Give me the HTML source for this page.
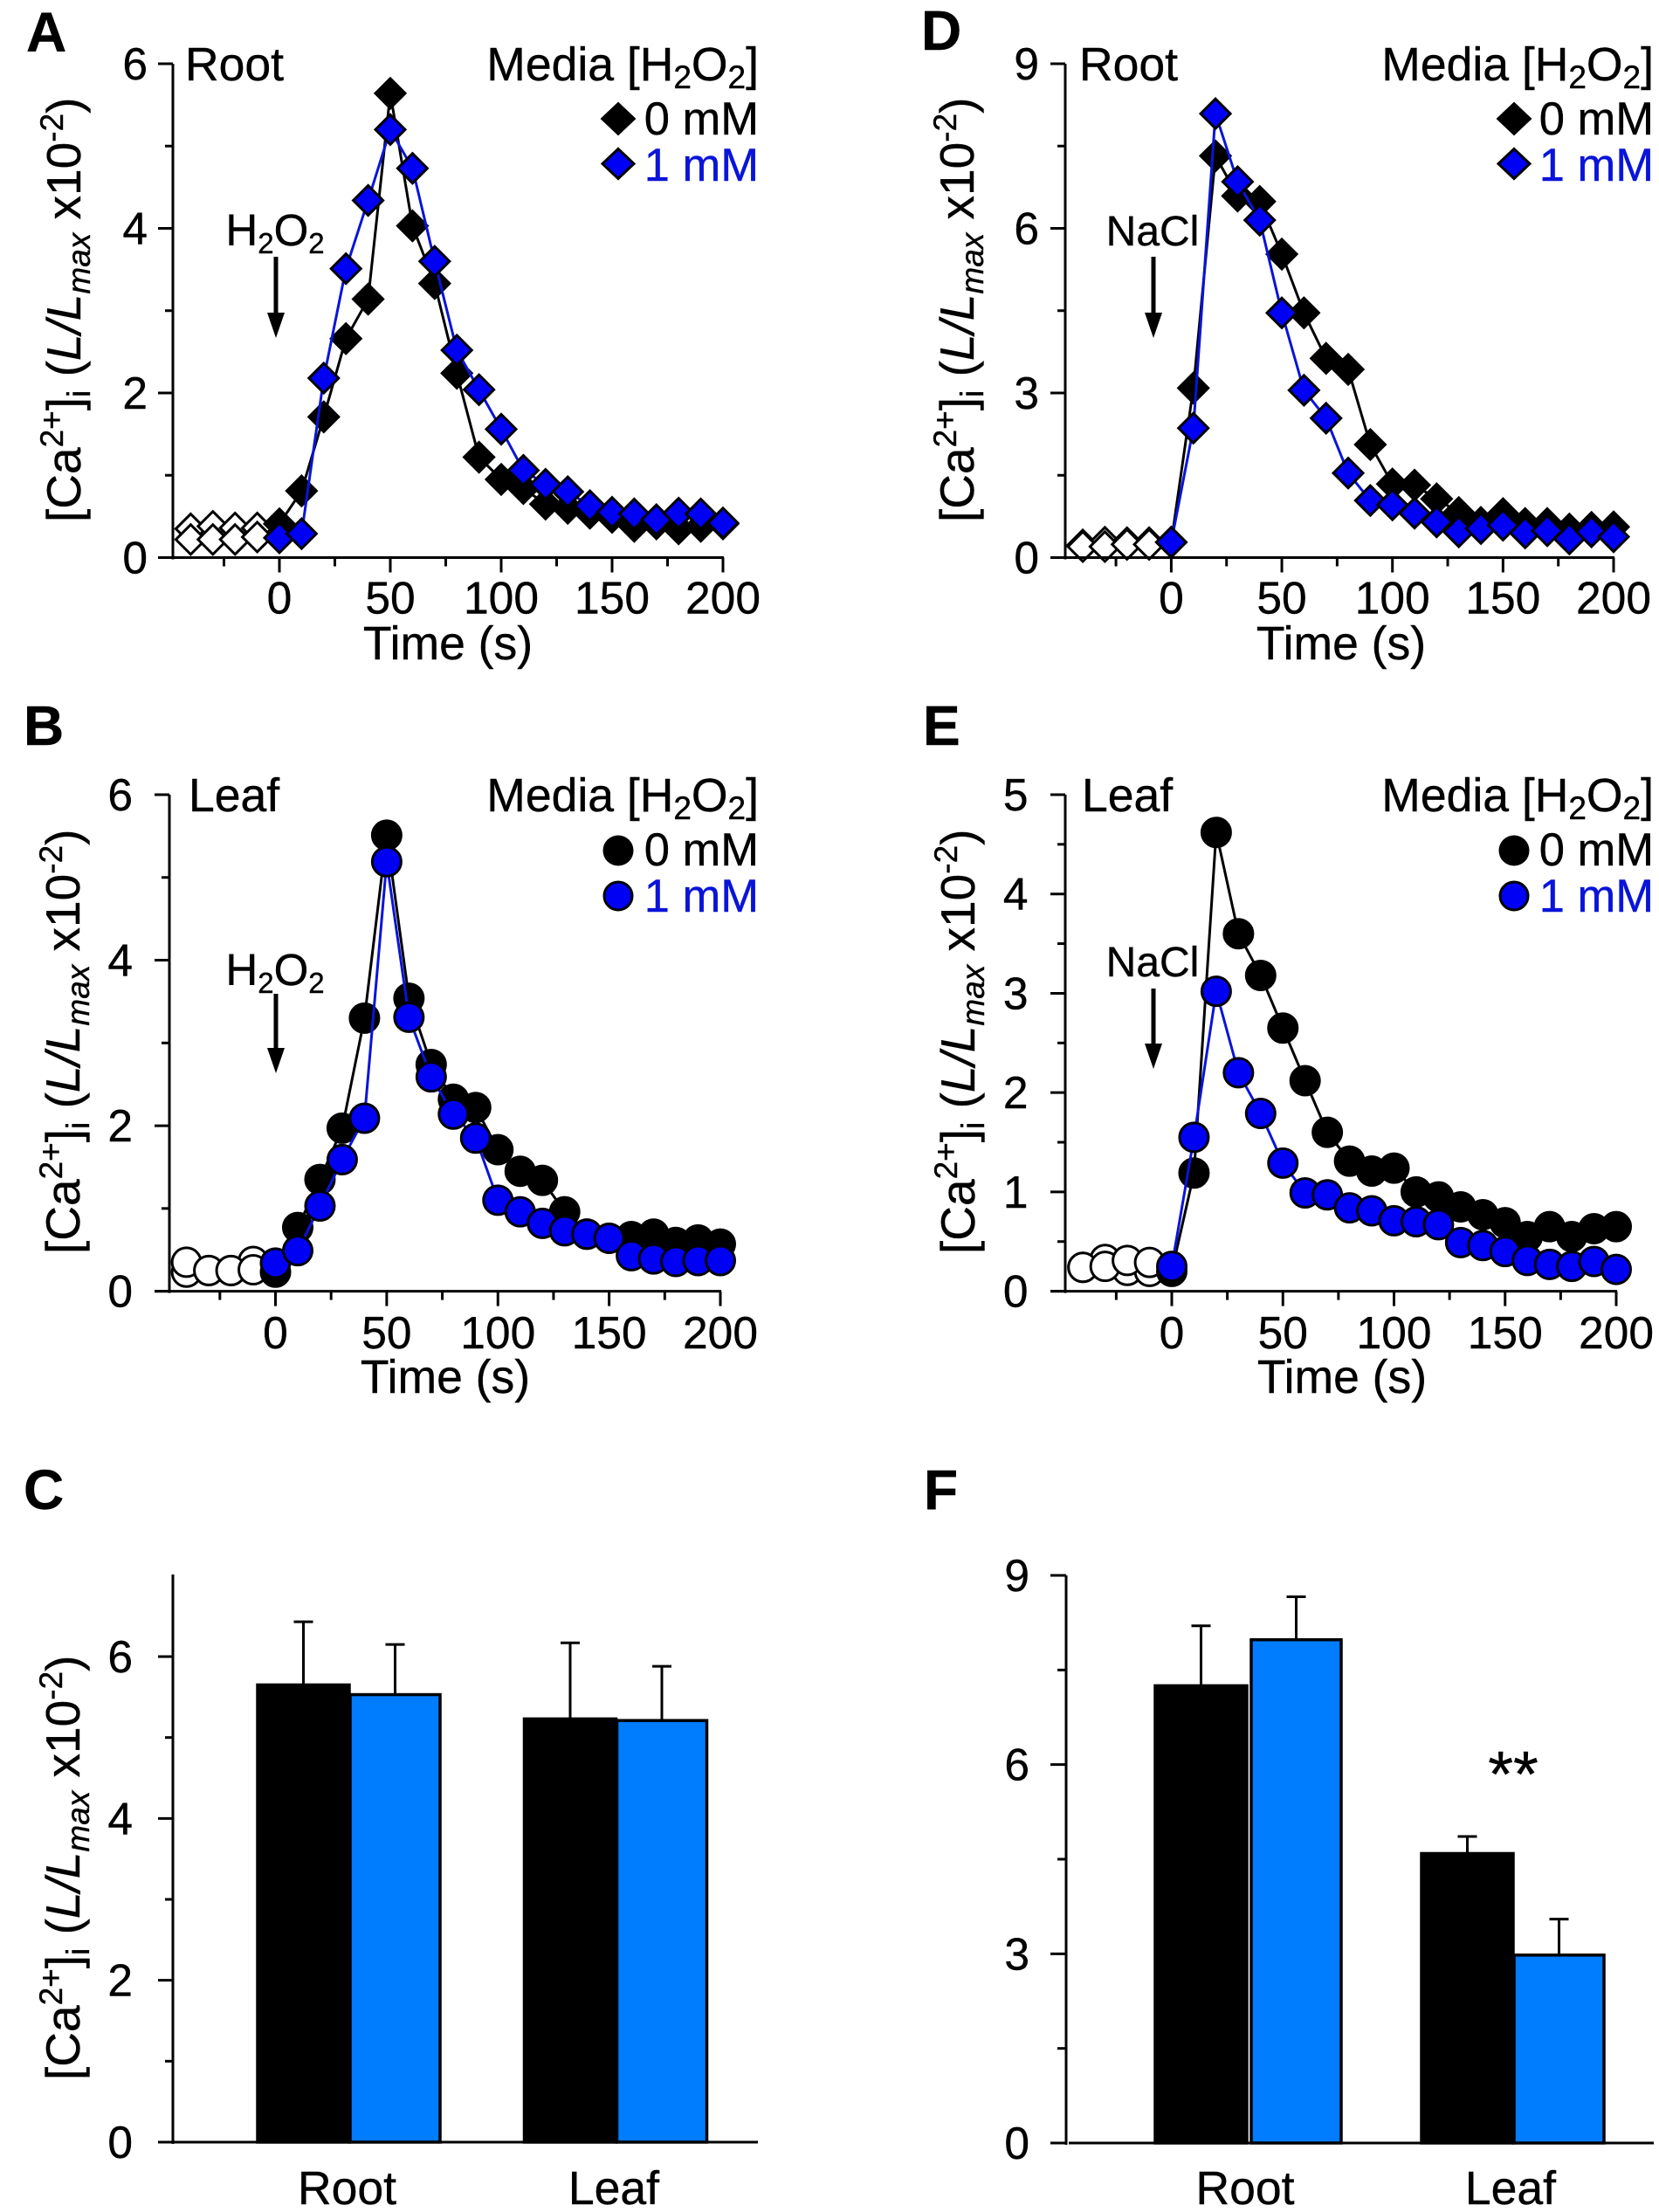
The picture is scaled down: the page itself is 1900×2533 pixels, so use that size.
<!DOCTYPE html>
<html lang="en">
<head>
<meta charset="utf-8">
<title>Cytosolic calcium responses to H2O2 and NaCl</title>
<style>
html,body{margin:0;padding:0;background:#fff;width:1900px;height:2533px;overflow:hidden}
svg{display:block}
text{font-family:"Liberation Sans",Arial,sans-serif;fill:#000;stroke:#000;stroke-width:.4px}
.t{font-size:53.5px}
.e{font-size:52.500px}
.a{font-size:51px}
.n{font-size:48px}
.tick{font-size:51.500px}
.letter{font-size:64px;font-weight:bold}
text.blue{fill:#0a14d8;stroke:#0a14d8}
.yl{font-size:55px}
</style>
</head>
<body>
<svg id="figure" xmlns="http://www.w3.org/2000/svg" width="1900" height="2533" viewBox="0 0 1900 2533">
  <rect x="0" y="0" width="1900" height="2533" fill="#fff"/>

  <!-- panel letters -->
  <text class="letter" x="30" y="59">A</text>
  <text class="letter" x="27" y="853">B</text>
  <text class="letter" x="27" y="1728">C</text>
  <text class="letter" x="1055" y="57">D</text>
  <text class="letter" x="1057" y="853">E</text>
  <text class="letter" x="1058" y="1728">F</text>

  <!-- y axis titles -->
  <text class="yl" transform="translate(92,598) rotate(-90)">[Ca<tspan font-size="37" dy="-20">2+</tspan><tspan dy="20">]</tspan><tspan font-size="37" dy="11">i</tspan><tspan dy="-11"> (</tspan><tspan font-style="italic">L/L</tspan><tspan font-style="italic" font-size="37" dy="11">max</tspan><tspan dy="-11"> x10</tspan><tspan font-size="37" dy="-20">-2</tspan><tspan dy="20">)</tspan></text>
  <text class="yl" transform="translate(91,1436) rotate(-90)">[Ca<tspan font-size="37" dy="-20">2+</tspan><tspan dy="20">]</tspan><tspan font-size="37" dy="11">i</tspan><tspan dy="-11"> (</tspan><tspan font-style="italic">L/L</tspan><tspan font-style="italic" font-size="37" dy="11">max</tspan><tspan dy="-11"> x10</tspan><tspan font-size="37" dy="-20">-2</tspan><tspan dy="20">)</tspan></text>
  <text class="yl" transform="translate(91,2382) rotate(-90)">[Ca<tspan font-size="37" dy="-20">2+</tspan><tspan dy="20">]</tspan><tspan font-size="37" dy="11">i</tspan><tspan dy="-11"> (</tspan><tspan font-style="italic">L/L</tspan><tspan font-style="italic" font-size="37" dy="11">max</tspan><tspan dy="-11"> x10</tspan><tspan font-size="37" dy="-20">-2</tspan><tspan dy="20">)</tspan></text>
  <text class="yl" transform="translate(1115,598) rotate(-90)">[Ca<tspan font-size="37" dy="-20">2+</tspan><tspan dy="20">]</tspan><tspan font-size="37" dy="11">i</tspan><tspan dy="-11"> (</tspan><tspan font-style="italic">L/L</tspan><tspan font-style="italic" font-size="37" dy="11">max</tspan><tspan dy="-11"> x10</tspan><tspan font-size="37" dy="-20">-2</tspan><tspan dy="20">)</tspan></text>
  <text class="yl" transform="translate(1116,1436) rotate(-90)">[Ca<tspan font-size="37" dy="-20">2+</tspan><tspan dy="20">]</tspan><tspan font-size="37" dy="11">i</tspan><tspan dy="-11"> (</tspan><tspan font-style="italic">L/L</tspan><tspan font-style="italic" font-size="37" dy="11">max</tspan><tspan dy="-11"> x10</tspan><tspan font-size="37" dy="-20">-2</tspan><tspan dy="20">)</tspan></text>

  <!-- x axis titles -->
  <text class="t" x="513" y="755" text-anchor="middle">Time (s)</text>
  <text class="t" x="510" y="1595" text-anchor="middle">Time (s)</text>
  <text class="t" x="1536" y="755" text-anchor="middle">Time (s)</text>
  <text class="t" x="1537" y="1595" text-anchor="middle">Time (s)</text>

  <!-- tissue labels -->
  <text class="t" x="212" y="92">Root</text>
  <text class="t" x="216" y="929">Leaf</text>
  <text class="t" x="1236" y="92">Root</text>
  <text class="t" x="1239" y="929">Leaf</text>

  <!-- legends -->
  <g>
    <text class="t" x="869" y="92" text-anchor="end">Media [H<tspan font-size="37" dy="9">2</tspan><tspan dy="-9">O</tspan><tspan font-size="37" dy="9">2</tspan><tspan dy="-9">]</tspan></text>
    <polygon points="708,118 727,136 708,154 689,136" fill="#000" stroke="#000" stroke-width="2"/>
    <text class="e" x="869" y="154" text-anchor="end">0 mM</text>
    <polygon points="708,170.500 726,187.500 708,204.500 690,187.500" fill="#0000f5" stroke="#000" stroke-width="3"/>
    <text class="e blue" x="869" y="207" text-anchor="end">1 mM</text>
  </g>
  <g>
    <text class="t" x="869" y="929" text-anchor="end">Media [H<tspan font-size="37" dy="9">2</tspan><tspan dy="-9">O</tspan><tspan font-size="37" dy="9">2</tspan><tspan dy="-9">]</tspan></text>
    <circle cx="708" cy="974" r="17.500" fill="#000"/>
    <text class="e" x="869" y="991" text-anchor="end">0 mM</text>
    <circle cx="708" cy="1026" r="16" fill="#0000f5" stroke="#000" stroke-width="3"/>
    <text class="e blue" x="869" y="1044" text-anchor="end">1 mM</text>
  </g>
  <g>
    <text class="t" x="1894" y="92" text-anchor="end">Media [H<tspan font-size="37" dy="9">2</tspan><tspan dy="-9">O</tspan><tspan font-size="37" dy="9">2</tspan><tspan dy="-9">]</tspan></text>
    <polygon points="1734,118 1753,136 1734,154 1715,136" fill="#000" stroke="#000" stroke-width="2"/>
    <text class="e" x="1894" y="154" text-anchor="end">0 mM</text>
    <polygon points="1734,170.500 1752,187.500 1734,204.500 1716,187.500" fill="#0000f5" stroke="#000" stroke-width="3"/>
    <text class="e blue" x="1894" y="207" text-anchor="end">1 mM</text>
  </g>
  <g>
    <text class="t" x="1894" y="929" text-anchor="end">Media [H<tspan font-size="37" dy="9">2</tspan><tspan dy="-9">O</tspan><tspan font-size="37" dy="9">2</tspan><tspan dy="-9">]</tspan></text>
    <circle cx="1734" cy="974" r="17.500" fill="#000"/>
    <text class="e" x="1894" y="991" text-anchor="end">0 mM</text>
    <circle cx="1734" cy="1026" r="16" fill="#0000f5" stroke="#000" stroke-width="3"/>
    <text class="e blue" x="1894" y="1044" text-anchor="end">1 mM</text>
  </g>

  <!-- treatment annotations -->
  <g>
    <text class="a" x="315" y="281" text-anchor="middle">H<tspan font-size="33" dy="9">2</tspan><tspan dy="-9">O</tspan><tspan font-size="33" dy="9">2</tspan></text>
    <line x1="316" y1="294" x2="316" y2="360" stroke="#000" stroke-width="5"/>
    <polygon points="306,358 326,358 316,387" fill="#000"/>
  </g>
  <g>
    <text class="a" x="315" y="1128" text-anchor="middle">H<tspan font-size="33" dy="9">2</tspan><tspan dy="-9">O</tspan><tspan font-size="33" dy="9">2</tspan></text>
    <line x1="316" y1="1138" x2="316" y2="1203" stroke="#000" stroke-width="5"/>
    <polygon points="306,1200 326,1200 316,1229" fill="#000"/>
  </g>
  <g>
    <text class="n" x="1320" y="281" text-anchor="middle">NaCl</text>
    <line x1="1321" y1="294" x2="1321" y2="360" stroke="#000" stroke-width="5"/>
    <polygon points="1311,358 1331,358 1321,387" fill="#000"/>
  </g>
  <g>
    <text class="n" x="1320" y="1118" text-anchor="middle">NaCl</text>
    <line x1="1321" y1="1132" x2="1321" y2="1198" stroke="#000" stroke-width="5"/>
    <polygon points="1311,1195 1331,1195 1321,1224" fill="#000"/>
  </g>

  <text x="1733" y="2057" text-anchor="middle" font-size="74">**</text>

  <g id="charts"></g>
</svg>

<script>
// Shared axis data
const timeValues = [0,10,20,30,40,50,60,70,80,90,100,110,120,130,140,150,160,170,180,190,200];
const baselineTimes = [-40,-30,-20,-10];
const xMajorTicks = [0,50,100,150,200];
const xMinorTicks = [-25,25,75,125,175];
const yMajorTicksSix = [0,2,4,6];
const yMinorTicksSix = [1,3,5];
const yMajorTicksNine = [0,3,6,9];
const yMinorTicksNine = [1.5,4.5,7.5];
const yMajorTicksFive = [0,1,2,3,4,5];
const yMinorTicksFive = [0.5,1.5,2.5,3.5,4.5];

// Panel A: root, H2O2
const rootH2O2Baseline0 = [0.35,0.38,0.36,0.36];
const rootH2O2Baseline1 = [0.22,0.22,0.22,0.25];
const rootH2O2Series0 = [0.41,0.81,1.71,2.66,3.14,5.64,4.03,3.33,2.24,1.22,0.95,0.84,0.65,0.60,0.54,0.49,0.38,0.41,0.35,0.38,0.41];
const rootH2O2Series1 = [0.24,0.29,2.18,3.51,4.34,5.20,4.73,3.60,2.52,2.04,1.56,1.06,0.89,0.80,0.63,0.55,0.53,0.46,0.54,0.53,0.42];

// Panel B: leaf, H2O2
const leafH2O2Baseline0 = [0.23,0.25,0.25,0.36];
const leafH2O2Baseline1 = [0.35,0.25,0.25,0.26];
const leafH2O2Series0 = [0.23,0.77,1.35,1.97,3.30,5.51,3.54,2.74,2.32,2.22,1.71,1.45,1.34,0.96,0.69,0.64,0.66,0.69,0.59,0.62,0.57];
const leafH2O2Series1 = [0.34,0.49,1.03,1.59,2.09,5.19,3.31,2.59,2.14,1.85,1.10,0.96,0.82,0.73,0.69,0.64,0.43,0.39,0.36,0.37,0.37];

// Panel D: root, NaCl
const rootNaClBaseline0 = [0.23,0.28,0.27,0.27];
const rootNaClBaseline1 = [0.20,0.20,0.24,0.24];
const rootNaClSeries0 = [0.28,3.09,7.32,6.59,6.49,5.53,4.46,3.63,3.43,2.06,1.34,1.32,1.07,0.82,0.64,0.80,0.62,0.62,0.52,0.55,0.56];
const rootNaClSeries1 = [0.28,2.36,8.09,6.85,6.15,4.46,3.05,2.54,1.54,1.04,0.96,0.81,0.65,0.47,0.53,0.59,0.45,0.49,0.34,0.47,0.38];

// Panel E: leaf, NaCl
const leafNaClBaseline0 = [0.24,0.32,0.21,0.20];
const leafNaClBaseline1 = [0.24,0.25,0.31,0.29];
const leafNaClSeries0 = [0.20,1.19,4.62,3.60,3.18,2.65,2.12,1.60,1.31,1.21,1.24,1.00,0.95,0.85,0.77,0.69,0.55,0.65,0.55,0.63,0.65];
const leafNaClSeries1 = [0.25,1.55,3.02,2.20,1.79,1.29,0.99,0.97,0.84,0.81,0.71,0.70,0.67,0.49,0.46,0.40,0.31,0.27,0.25,0.30,0.22];

// Panels C and F: peak values
const barCategories = ["Root","Leaf"];
const peakH2O2Means0 = [5.65,5.23];
const peakH2O2Means1 = [5.53,5.21];
const peakH2O2Errors0 = [6.43,6.17];
const peakH2O2Errors1 = [6.15,5.88];
const peakNaClMeans0 = [7.25,4.59];
const peakNaClMeans1 = [7.98,2.98];
const peakNaClErrors0 = [8.20,4.86];
const peakNaClErrors1 = [8.66,3.55];

const SVGNS = "http://www.w3.org/2000/svg";
const root = document.getElementById("charts");

function make(tag, attrs, parent) {
  const el = document.createElementNS(SVGNS, tag);
  for (const k in attrs) el.setAttribute(k, attrs[k]);
  parent.appendChild(el);
  return el;
}

function linearScale(d0, d1, r0, r1) {
  return function (v) { return r0 + (v - d0) * (r1 - r0) / (d1 - d0); };
}

function drawYAxis(g, opt, yScale, majors, minors) {
  const spine = make("line", {x1: opt.axisX, x2: opt.axisX, y1: opt.yTop, y2: opt.y0 + 2, stroke: "#000", "stroke-width": 3}, g);
  
  
  majors.forEach(function (v) {
    const t = make("line", {x1: opt.axisLeft, x2: opt.axisX, y1: yScale(v), y2: yScale(v), stroke: "#000", "stroke-width": 3}, g);
    
    
    const label = make("text", {x: opt.labelRight, y: yScale(v) + 18, "text-anchor": "end", class: "tick"}, g);
    
    
    label.textContent = String(v);
  });
  minors.forEach(function (v) {
    const t = make("line", {x1: opt.axisLeft + 8, x2: opt.axisX, y1: yScale(v), y2: yScale(v), stroke: "#000", "stroke-width": 3}, g);
    
    
  });
}

function drawTimeAxis(g, opt, xScale, yScale) {
  const spine = make("line", {x1: opt.axisLeft, x2: xScale(200) + 1, y1: yScale(0), y2: yScale(0), stroke: "#000", "stroke-width": 3}, g);
  
  
  xMajorTicks.forEach(function (v) {
    const t = make("line", {x1: xScale(v), x2: xScale(v), y1: yScale(0), y2: yScale(0) + 17, stroke: "#000", "stroke-width": 3}, g);
    
    
    const label = make("text", {x: xScale(v), y: opt.xLabelY, "text-anchor": "middle", class: "tick"}, g);
    
    
    label.textContent = String(v);
  });
  xMinorTicks.forEach(function (v) {
    const t = make("line", {x1: xScale(v), x2: xScale(v), y1: yScale(0), y2: yScale(0) + 10, stroke: "#000", "stroke-width": 3}, g);
    
    
  });
}

function drawMarker(g, shape, x, y, fill) {
  let m;
  if (shape === "diamond") {
    const r = 17;
    m = make("polygon", {points: x + "," + (y - r) + " " + (x + r) + "," + y + " " + x + "," + (y + r) + " " + (x - r) + "," + y, fill: fill, stroke: "#000", "stroke-width": 3, "stroke-linejoin": "miter"}, g);
  } else {
    m = make("circle", {cx: x, cy: y, r: 16.5, fill: fill, stroke: "#000", "stroke-width": 3}, g);
  }
  return m;
}

function drawSeries(g, shape, xs, ys, xScale, yScale, lineColor, fill, connect) {
  if (connect) {
    const pts = xs.map(function (x, i) { return xScale(x) + "," + yScale(ys[i]); }).join(" ");
    const line = make("polyline", {points: pts, fill: "none", stroke: lineColor, "stroke-width": 3, "stroke-linejoin": "round"}, g);
    
    
  }
  xs.forEach(function (x, i) {
    const m = drawMarker(g, shape, xScale(x), yScale(ys[i]), fill);
    
    
  });
}

function drawTimeChart(name, opt, majors, minors, base0, base1, s0, s1) {
  const g = make("g", {}, root);
  
  
  const xScale = linearScale(0, 200, opt.x0, opt.x200);
  const yScale = linearScale(0, opt.yMax, opt.y0, opt.yTop);
  drawSeries(g, opt.shape, baselineTimes, base0, xScale, yScale, "#000", "#fff", false);
  drawSeries(g, opt.shape, baselineTimes, base1, xScale, yScale, "#000", "#fff", false);
  drawSeries(g, opt.shape, timeValues, s0, xScale, yScale, "#000", "#000", true);
  drawSeries(g, opt.shape, timeValues, s1, xScale, yScale, "#0a14d8", "#0000f5", true);
  drawYAxis(g, opt, yScale, majors, minors);
  drawTimeAxis(g, opt, xScale, yScale);
}

function drawBarChart(name, opt, majors, minors, m0, m1, e0, e1) {
  const g = make("g", {}, root);
  
  
  const yScale = linearScale(0, opt.yMax, opt.y0, opt.yAt);
  function drawBar(cat, left, width, mean, err, fill, barName) {
    const bar = make("rect", {x: left, y: yScale(mean), width: width, height: opt.y0 - yScale(mean), fill: fill, stroke: "#000", "stroke-width": 3.5}, g);
    
    
    const cx = left + width / 2;
    const stem = make("line", {x1: cx, x2: cx, y1: yScale(mean), y2: yScale(err), stroke: "#000", "stroke-width": 3}, g);
    
    
    const cap = make("line", {x1: cx - 11, x2: cx + 11, y1: yScale(err), y2: yScale(err), stroke: "#000", "stroke-width": 3}, g);
    
    
  }
  barCategories.forEach(function (c, i) {
    const left = opt.barStart + i * opt.barStep;
    drawBar(c, left, 105, m0[i], e0[i], "#000", "bar-" + c.toLowerCase() + "-0mm");
    drawBar(c, left + 106 + opt.gaps[i], 103, m1[i], e1[i], "#007cff", "bar-" + c.toLowerCase() + "-1mm");
    const label = make("text", {x: opt.catX + i * opt.catStep, y: opt.catY, "text-anchor": "middle", class: "t"}, g);
    
    
    label.textContent = c;
  });
  const spine = make("line", {x1: opt.axisX, x2: opt.axisX, y1: opt.yTop, y2: opt.y0 + 2, stroke: "#000", "stroke-width": 3}, g);
  
  
  const base = make("line", {x1: opt.baseLeft, x2: opt.baseRight, y1: opt.y0, y2: opt.y0, stroke: "#000", "stroke-width": 3}, g);
  
  
  majors.forEach(function (v) {
    const t = make("line", {x1: opt.axisLeft, x2: opt.axisX, y1: yScale(v), y2: yScale(v), stroke: "#000", "stroke-width": 3}, g);
    
    
    const label = make("text", {x: opt.labelRight, y: yScale(v) + 18, "text-anchor": "end", class: "tick"}, g);
    
    
    label.textContent = String(v);
  });
  minors.forEach(function (v) {
    const t = make("line", {x1: opt.axisLeft + 8, x2: opt.axisX, y1: yScale(v), y2: yScale(v), stroke: "#000", "stroke-width": 3}, g);
    
    
  });
}

drawTimeChart("chart-a-root-h2o2", {shape:"diamond", x0:320, x200:828, y0:638.5, yTop:73, yMax:6, axisX:198, axisLeft:181, labelRight:169, xLabelY:702.5},
  yMajorTicksSix, yMinorTicksSix, rootH2O2Baseline0, rootH2O2Baseline1, rootH2O2Series0, rootH2O2Series1);
drawTimeChart("chart-b-leaf-h2o2", {shape:"circle", x0:315.5, x200:825, y0:1478.6, yTop:910, yMax:6, axisX:194, axisLeft:177, labelRight:152, xLabelY:1544},
  yMajorTicksSix, yMinorTicksSix, leafH2O2Baseline0, leafH2O2Baseline1, leafH2O2Series0, leafH2O2Series1);
drawTimeChart("chart-d-root-nacl", {shape:"diamond", x0:1341.4, x200:1848, y0:638.5, yTop:73, yMax:9, axisX:1220, axisLeft:1203, labelRight:1190, xLabelY:702.5},
  yMajorTicksNine, yMinorTicksNine, rootNaClBaseline0, rootNaClBaseline1, rootNaClSeries0, rootNaClSeries1);
drawTimeChart("chart-e-leaf-nacl", {shape:"circle", x0:1342, x200:1851, y0:1478.6, yTop:910, yMax:5, axisX:1220, axisLeft:1203, labelRight:1177.5, xLabelY:1544},
  yMajorTicksFive, yMinorTicksFive, leafNaClBaseline0, leafNaClBaseline1, leafNaClSeries0, leafNaClSeries1);

drawBarChart("chart-c-peak-h2o2", {y0:2453, yAt:1897, yMax:6, yTop:1803, axisX:198, axisLeft:181, labelRight:152, baseLeft:181, baseRight:868, barStart:295, barStep:305.5, gaps:[0,0], catX:397.5, catStep:305.5, catY:2524},
  yMajorTicksSix, yMinorTicksSix, peakH2O2Means0, peakH2O2Means1, peakH2O2Errors0, peakH2O2Errors1);
drawBarChart("chart-f-peak-nacl", {y0:2454, yAt:1804, yMax:9, yTop:1804, axisX:1221, axisLeft:1203, labelRight:1179, baseLeft:1224, baseRight:1894, barStart:1323, barStep:305, gaps:[4,0], catX:1426, catStep:304, catY:2524},
  yMajorTicksNine, yMinorTicksNine, peakNaClMeans0, peakNaClMeans1, peakNaClErrors0, peakNaClErrors1);
</script>
</body>
</html>
